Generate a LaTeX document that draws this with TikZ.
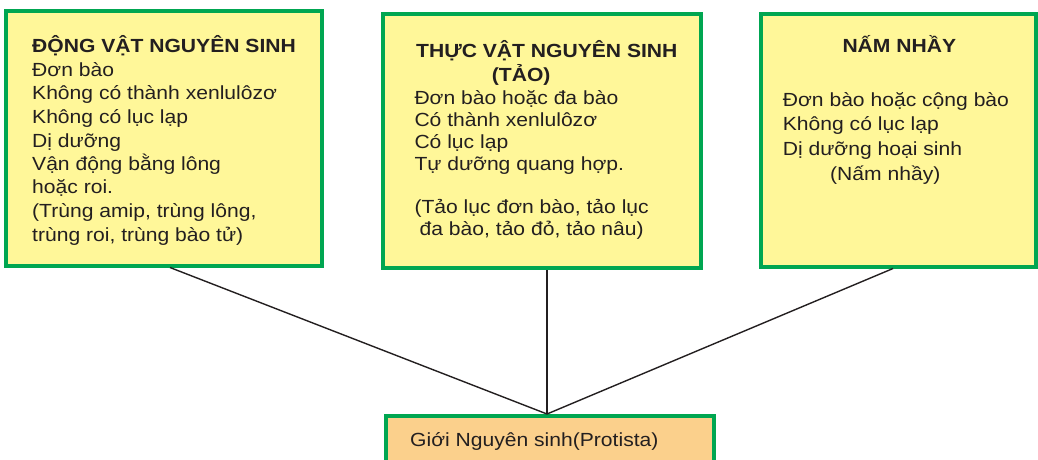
\documentclass[tikz,border=0pt]{standalone}
\usepackage{fontspec}
\setmainfont{Liberation Sans}[FakeStretch=1.11]
\definecolor{boxyellow}{RGB}{255,247,153}
\definecolor{boxgreen}{RGB}{0,166,81}
\definecolor{boxorange}{RGB}{251,208,140}
\definecolor{txtcol}{RGB}{35,31,32}
\begin{document}
\begin{tikzpicture}[x=1pt,y=-1pt,
  panel/.style={draw=boxgreen,line width=4pt,fill=boxyellow,inner sep=0pt,outer sep=0pt},
  rootbox/.style={draw=boxgreen,line width=4pt,fill=boxorange,inner sep=0pt,outer sep=0pt},
  txt/.style={anchor=base west,inner sep=0pt,text=txtcol,font=\fontsize{19}{23}\selectfont},
  ttl/.style={txt,font=\fontsize{19}{23}\selectfont\bfseries},
  link/.style={draw=txtcol,line width=1.4pt}]
\useasboundingbox (0,0) rectangle (1038,459);
\clip (0,0) rectangle (1038,459);
% boxes
\node[panel,minimum width=315.5pt,minimum height=254.2pt] (b1) at (163.75,138.4) {};
\node[panel,minimum width=318pt,minimum height=254.2pt] (b2) at (541.5,140.9) {};
\node[panel,minimum width=275pt,minimum height=253pt] (b3) at (898.5,140) {};
\node[rootbox,minimum width=328.5pt,minimum height=64pt] (b4) at (549.75,448) {};
% connector end points
\coordinate (s1) at (170,267.5);
\coordinate (s2) at (547,270);
\coordinate (s3) at (893,268.5);
\coordinate (j) at (547,414);
\draw[link] (s1) -- (j);
\draw[link] (s2) -- (j);
\draw[link] (s3) -- (j);
% box 1 text
\node[ttl] (a0) at (32,52) {ĐỘNG VẬT NGUYÊN SINH};
\node[txt] (a1) at (32,76) {Đơn bào};
\node[txt] (a2) at (32,99.5) {Không có thành xenlulôzơ};
\node[txt] (a3) at (32,123) {Không có lục lạp};
\node[txt] (a4) at (32,147) {Dị dưỡng};
\node[txt] (a5) at (32,170) {Vận động bằng lông};
\node[txt] (a6) at (32,193.5) {hoặc roi.};
\node[txt] (a7) at (32,217.5) {(Trùng amip, trùng lông,};
\node[txt] (a8) at (32,241.5) {trùng roi, trùng bào tử)};
% box 2 text
\node[ttl] (c0) at (416,57) {THỰC VẬT NGUYÊN SINH};
\node[ttl] (c1) at (491.7,81.5) {(TẢO)};
\node[txt] (c2) at (414.3,104) {Đơn bào hoặc đa bào};
\node[txt] (c3) at (414.3,126.3) {Có thành xenlulôzơ};
\node[txt] (c4) at (414.3,148.3) {Có lục lạp};
\node[txt] (c5) at (414.3,170) {Tự dưỡng quang hợp.};
\node[txt] (c6) at (414.3,213) {(Tảo lục đơn bào, tảo lục};
\node[txt] (c7) at (419.5,235) {đa bào, tảo đỏ, tảo nâu)};
% box 3 text
\node[ttl] (d0) at (842.3,52.7) {NẤM NHẦY};
\node[txt] (d1) at (782.7,106.5) {Đơn bào hoặc cộng bào};
\node[txt] (d2) at (782.7,130.5) {Không có lục lạp};
\node[txt] (d3) at (782.7,155.5) {Dị dưỡng hoại sinh};
\node[txt] (d4) at (830,180) {(Nấm nhầy)};
% root text
\node[txt] (r0) at (410,446) {Giới Nguyên sinh(Protista)};
\end{tikzpicture}
\end{document}
